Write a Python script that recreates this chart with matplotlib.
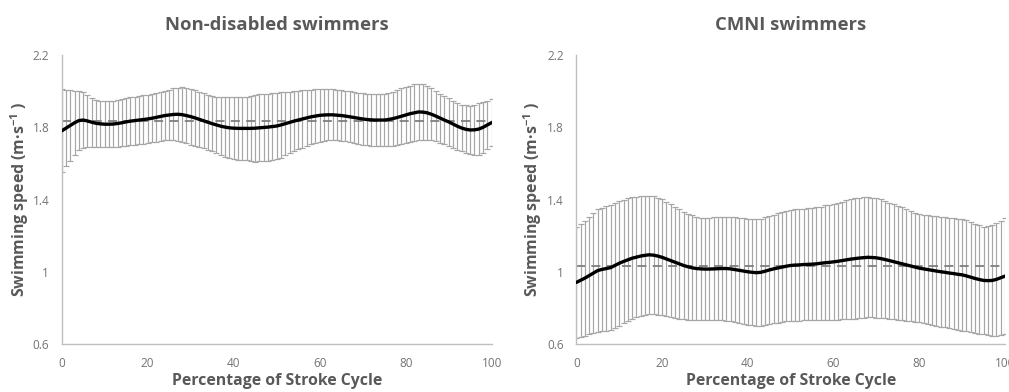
import numpy as np
import matplotlib
matplotlib.use("Agg")
import matplotlib.pyplot as plt

# ---------------- data ----------------
pct = list(range(0, 101))

titles = ["Non-disabled swimmers", "CMNI swimmers"]
x_ticks = [0, 20, 40, 60, 80, 100]
y_ticks = [0.6, 1.0, 1.4, 1.8, 2.2]
y_tick_labels = ["0.6", "1", "1.4", "1.8", "2.2"]

nd_mean = [1.780, 1.795, 1.810, 1.825, 1.837, 1.840, 1.835, 1.828, 1.822, 1.819, 1.817,
           1.817, 1.818, 1.821, 1.825, 1.830, 1.834, 1.837, 1.840, 1.843, 1.846,
           1.850, 1.855, 1.860, 1.865, 1.868, 1.871, 1.872, 1.870, 1.865, 1.859,
           1.852, 1.844, 1.836, 1.828, 1.820, 1.813, 1.806, 1.801, 1.797, 1.795,
           1.794, 1.794, 1.794, 1.794, 1.795, 1.797, 1.799, 1.801, 1.804, 1.807,
           1.813, 1.820, 1.827, 1.834, 1.840, 1.846, 1.852, 1.858, 1.862, 1.866,
           1.868, 1.869, 1.869, 1.867, 1.865, 1.862, 1.858, 1.854, 1.850, 1.846,
           1.843, 1.841, 1.840, 1.840, 1.840, 1.843, 1.848, 1.854, 1.861, 1.868,
           1.875, 1.880, 1.885, 1.884, 1.880, 1.872, 1.862, 1.851, 1.840, 1.830,
           1.818, 1.806, 1.796, 1.789, 1.785, 1.786, 1.790, 1.800, 1.813, 1.826]

nd_sd = [0.230, 0.210, 0.195, 0.177, 0.165, 0.153, 0.143, 0.136, 0.131, 0.129, 0.128,
         0.128, 0.129, 0.130, 0.131, 0.132, 0.132, 0.133, 0.133, 0.133, 0.133,
         0.134, 0.135, 0.137, 0.138, 0.140, 0.144, 0.148, 0.151, 0.153, 0.155,
         0.155, 0.154, 0.153, 0.152, 0.152, 0.155, 0.160, 0.165, 0.169, 0.172,
         0.173, 0.174, 0.175, 0.180, 0.185, 0.186, 0.186, 0.186, 0.185, 0.185,
         0.181, 0.176, 0.171, 0.167, 0.163, 0.159, 0.155, 0.151, 0.148, 0.145,
         0.143, 0.142, 0.141, 0.140, 0.140, 0.140, 0.141, 0.141, 0.142, 0.143,
         0.143, 0.144, 0.145, 0.145, 0.146, 0.148, 0.150, 0.152, 0.154, 0.155,
         0.156, 0.157, 0.157, 0.153, 0.148, 0.144, 0.140, 0.136, 0.133, 0.131,
         0.130, 0.130, 0.130, 0.132, 0.134, 0.140, 0.145, 0.140, 0.134, 0.128]

nd_overall = 1.837

cm_mean = [0.941, 0.953, 0.965, 0.979, 0.993, 1.007, 1.013, 1.018, 1.023, 1.035, 1.047,
           1.057, 1.066, 1.075, 1.081, 1.087, 1.091, 1.094, 1.092, 1.087, 1.080,
           1.071, 1.062, 1.053, 1.044, 1.035, 1.028, 1.022, 1.018, 1.016, 1.015,
           1.015, 1.016, 1.017, 1.018, 1.018, 1.016, 1.012, 1.008, 1.004, 1.000,
           0.997, 0.995, 0.997, 1.003, 1.010, 1.016, 1.021, 1.026, 1.031, 1.035,
           1.037, 1.038, 1.040, 1.041, 1.042, 1.044, 1.047, 1.050, 1.052, 1.055,
           1.058, 1.062, 1.066, 1.070, 1.073, 1.076, 1.078, 1.080, 1.079, 1.077,
           1.073, 1.068, 1.062, 1.056, 1.050, 1.044, 1.038, 1.032, 1.026, 1.020,
           1.016, 1.012, 1.008, 1.004, 1.000, 0.997, 0.993, 0.990, 0.986, 0.983,
           0.977, 0.970, 0.963, 0.957, 0.952, 0.951, 0.952, 0.958, 0.967, 0.976]

cm_sd = [0.308, 0.313, 0.318, 0.325, 0.332, 0.338, 0.342, 0.345, 0.348, 0.347, 0.346,
         0.343, 0.340, 0.337, 0.334, 0.330, 0.328, 0.326, 0.325, 0.324, 0.322,
         0.318, 0.313, 0.308, 0.303, 0.298, 0.294, 0.290, 0.286, 0.284, 0.283,
         0.284, 0.285, 0.286, 0.287, 0.288, 0.289, 0.290, 0.291, 0.292, 0.292,
         0.293, 0.295, 0.297, 0.299, 0.300, 0.301, 0.303, 0.304, 0.306, 0.307,
         0.308, 0.308, 0.309, 0.310, 0.310, 0.312, 0.314, 0.317, 0.319, 0.321,
         0.324, 0.326, 0.329, 0.331, 0.333, 0.334, 0.334, 0.333, 0.332, 0.331,
         0.328, 0.325, 0.321, 0.318, 0.315, 0.312, 0.309, 0.305, 0.302, 0.300,
         0.301, 0.302, 0.303, 0.304, 0.304, 0.305, 0.306, 0.307, 0.308, 0.309,
         0.307, 0.305, 0.302, 0.300, 0.298, 0.300, 0.305, 0.311, 0.316, 0.321]

cm_overall = 1.033

# ---------------- style ----------------
plt.rcParams['font.family'] = ['Open Sans', 'DejaVu Sans']
plt.rcParams['mathtext.fontset'] = 'custom'
plt.rcParams['mathtext.rm'] = 'Open Sans:bold'
plt.rcParams['mathtext.it'] = 'Open Sans:bold'
plt.rcParams['mathtext.bf'] = 'Open Sans:bold'
plt.rcParams['mathtext.sf'] = 'Open Sans:bold'
TXT = "#595959"
TICK = "#737373"
ERR = "#a6a6a6"
SPINE = "#bfbfbf"

fig = plt.figure(figsize=(10.09, 3.92), dpi=100)
ax_rects = [[0.0611, 0.1224, 0.4262, 0.7372],
            [0.5712, 0.1224, 0.4249, 0.7372]]
ylabel_x = [-0.097, -0.101]

panels = [(nd_mean, nd_sd, nd_overall), (cm_mean, cm_sd, cm_overall)]

for rect, title, (mean, sd, overall), ylx in zip(ax_rects, titles, panels, ylabel_x):
    ax = fig.add_axes(rect)
    ax.errorbar(pct, mean, yerr=sd, fmt='none', ecolor=ERR, elinewidth=0.85,
                capsize=2.2, capthick=0.85, zorder=1)
    ax.plot([pct[0], pct[-1]], [overall, overall], color="#7f7f7f", lw=1.3,
            dashes=(5, 3.5), zorder=2)
    ax.plot(pct, mean, color="black", lw=2.4, zorder=3, solid_capstyle='round')
    ax.set_xlim(0, 100)
    ax.set_ylim(0.6, 2.2)
    ax.set_xticks(x_ticks)
    ax.set_yticks(y_ticks)
    ax.set_yticklabels(y_tick_labels)
    ax.tick_params(length=0, labelsize=8.5, colors=TICK)
    ax.tick_params(axis='y', pad=9)
    ax.tick_params(axis='x', pad=9)
    for s in ['top', 'right']:
        ax.spines[s].set_visible(False)
    for s in ['left', 'bottom']:
        ax.spines[s].set_color(SPINE)
        ax.spines[s].set_linewidth(1.0)
    ax.text(0.5, 1.104, title, transform=ax.transAxes, ha='center', va='center',
            fontsize=13.3, fontweight='bold', color=TXT)
    ax.set_xlabel("Percentage of Stroke Cycle", fontsize=11.4, fontweight='bold',
                  color=TXT)
    ax.xaxis.set_label_coords(0.5, -0.128)
    ax.xaxis.label.set_va('center')
    ax.set_ylabel("Swimming speed (m·s$^{-1}$ )", fontsize=11.4, fontweight='bold',
                  color=TXT)
    ax.yaxis.set_label_coords(ylx, 0.5)
    ax.yaxis.label.set_va('center')

fig.savefig("out.png", dpi=100)
